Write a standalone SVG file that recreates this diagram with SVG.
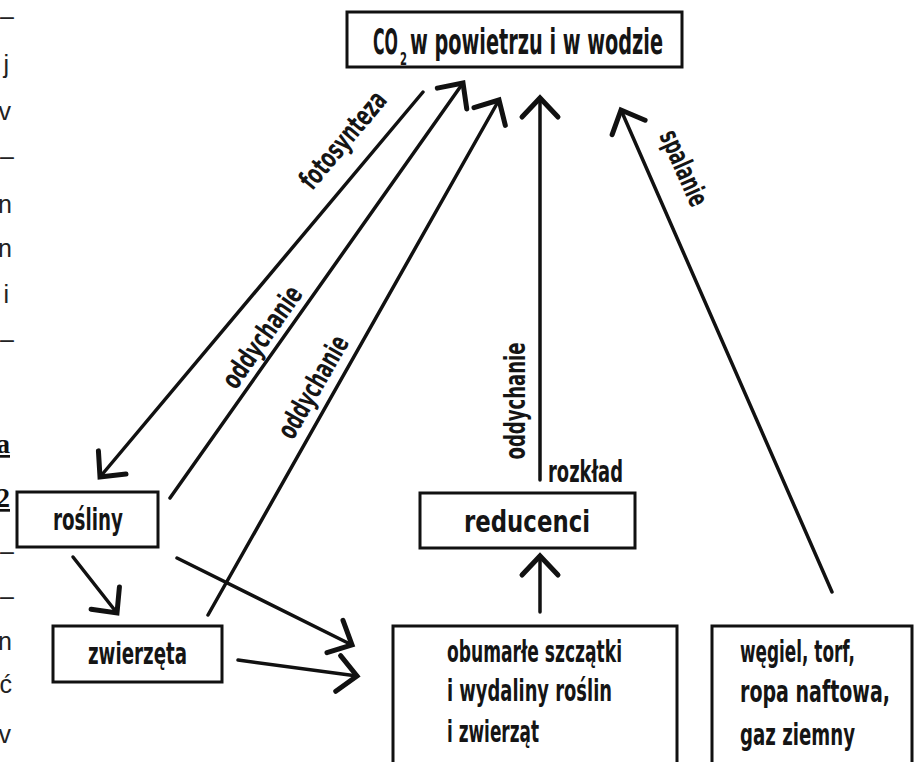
<svg xmlns="http://www.w3.org/2000/svg" width="920" height="762" viewBox="0 0 920 762">
<style>
.box{fill:#fff;stroke:#111;stroke-width:3}
.lbl{font-family:"Liberation Sans Narrow","DejaVu Sans Condensed","Liberation Sans",sans-serif;font-weight:bold;fill:#151515}
.con{stroke:#111;stroke-width:3.5;fill:none;stroke-linecap:round}
.frag{font-family:"Liberation Sans",Arial,sans-serif;font-size:25px;fill:#222}
.fragb{font-family:"Liberation Serif","Times New Roman",serif;font-size:27px;font-weight:bold;fill:#111;text-decoration:underline}
</style>
<defs>
<marker id="ah" viewBox="0 0 30 44" refX="26" refY="22" markerWidth="30" markerHeight="44" markerUnits="userSpaceOnUse" orient="auto">
<path d="M7,4 L26,22 L7,40" fill="none" stroke="#111" stroke-width="5" stroke-linejoin="miter" stroke-linecap="round"/>
</marker>
</defs>
<rect width="920" height="762" fill="#fff"/>

<g id="margin-text">
<text class="frag" x="14" y="25" text-anchor="end">–</text>
<text class="frag" x="9" y="73" text-anchor="end">j</text>
<text class="frag" x="11" y="120" text-anchor="end">v</text>
<text class="frag" x="14" y="165" text-anchor="end">–</text>
<text class="frag" x="12" y="213" text-anchor="end">n</text>
<text class="frag" x="12" y="257" text-anchor="end">n</text>
<text class="frag" x="9" y="303" text-anchor="end">i</text>
<text class="frag" x="14" y="348" text-anchor="end">–</text>
<text class="fragb" x="10" y="453" text-anchor="end">a</text>
<text class="fragb" x="10" y="507" text-anchor="end">2</text>
<text class="frag" x="14" y="560" text-anchor="end">–</text>
<text class="frag" x="14" y="605" text-anchor="end">–</text>
<text class="frag" x="12" y="650" text-anchor="end">n</text>
<text class="frag" x="12" y="693" text-anchor="end">ć</text>
<text class="frag" x="11" y="743" text-anchor="end">v</text>
</g>

<g id="connectors">
<line class="con" x1="423" y1="92" x2="100" y2="477" marker-end="url(#ah)"/>
<line class="con" x1="170" y1="498" x2="463" y2="83" marker-end="url(#ah)"/>
<line class="con" x1="208" y1="615" x2="499" y2="100" marker-end="url(#ah)"/>
<line class="con" x1="540" y1="480" x2="540" y2="98" marker-end="url(#ah)"/>
<line class="con" x1="832" y1="592" x2="621" y2="110" marker-end="url(#ah)"/>
<line class="con" x1="73" y1="557" x2="117" y2="613" marker-end="url(#ah)"/>
<line class="con" x1="177" y1="558" x2="352" y2="645" marker-end="url(#ah)"/>
<line class="con" x1="238" y1="660" x2="357" y2="676" marker-end="url(#ah)"/>
<line class="con" x1="540" y1="612" x2="540" y2="556" marker-end="url(#ah)"/>
<text class="lbl" font-size="28" textLength="118" lengthAdjust="spacingAndGlyphs" text-anchor="middle" dominant-baseline="central" transform="translate(343,140) rotate(-50)">fotosynteza</text>
<text class="lbl" font-size="28" textLength="118" lengthAdjust="spacingAndGlyphs" text-anchor="middle" dominant-baseline="central" transform="translate(262,337) rotate(-55)">oddychanie</text>
<text class="lbl" font-size="28" textLength="114" lengthAdjust="spacingAndGlyphs" text-anchor="middle" dominant-baseline="central" transform="translate(313,387) rotate(-60)">oddychanie</text>
<text class="lbl" font-size="28" textLength="117" lengthAdjust="spacingAndGlyphs" text-anchor="middle" dominant-baseline="central" transform="translate(515,401) rotate(-90)">oddychanie</text>
<text class="lbl" font-size="30" x="548" y="482" textLength="75" lengthAdjust="spacingAndGlyphs">rozkład</text>
<text class="lbl" font-size="28" textLength="80" lengthAdjust="spacingAndGlyphs" text-anchor="middle" dominant-baseline="central" transform="translate(684,168) rotate(66)">spalanie</text>
</g>

<g id="node-co2">
<rect class="box" x="347" y="12" width="335" height="55"/>
<text class="lbl" font-size="35" x="373" y="54" textLength="25" lengthAdjust="spacingAndGlyphs">CO</text>
<text class="lbl" font-size="17" x="400" y="65" textLength="7" lengthAdjust="spacingAndGlyphs">2</text>
<text class="lbl" font-size="35" x="410" y="54" textLength="253" lengthAdjust="spacingAndGlyphs">w powietrzu i w wodzie</text>
</g>

<g id="node-rosliny">
<rect class="box" x="17" y="492" width="141" height="55"/>
<text class="lbl" font-size="30" x="53" y="530" textLength="70" lengthAdjust="spacingAndGlyphs">rośliny</text>
</g>

<g id="node-zwierzeta">
<rect class="box" x="53" y="626" width="169" height="56"/>
<text class="lbl" font-size="30" x="88" y="664" textLength="99" lengthAdjust="spacingAndGlyphs">zwierzęta</text>
</g>

<g id="node-reducenci">
<rect class="box" x="420" y="493" width="215" height="55"/>
<text class="lbl" font-size="30" x="464" y="532" textLength="126" lengthAdjust="spacingAndGlyphs">reducenci</text>
</g>

<g id="node-szczatki">
<rect class="box" x="393" y="626" width="284" height="150"/>
<text class="lbl" font-size="30" x="447" y="662" textLength="175" lengthAdjust="spacingAndGlyphs">obumarłe szczątki</text>
<text class="lbl" font-size="30" x="447" y="701" textLength="165" lengthAdjust="spacingAndGlyphs">i wydaliny roślin</text>
<text class="lbl" font-size="30" x="447" y="742" textLength="92" lengthAdjust="spacingAndGlyphs">i zwierząt</text>
</g>

<g id="node-paliwa">
<rect class="box" x="712" y="626" width="200" height="150"/>
<text class="lbl" font-size="30" x="740" y="662" textLength="115" lengthAdjust="spacingAndGlyphs">węgiel, torf,</text>
<text class="lbl" font-size="30" x="740" y="702" textLength="150" lengthAdjust="spacingAndGlyphs">ropa naftowa,</text>
<text class="lbl" font-size="30" x="740" y="745" textLength="115" lengthAdjust="spacingAndGlyphs">gaz ziemny</text>
</g>
</svg>
